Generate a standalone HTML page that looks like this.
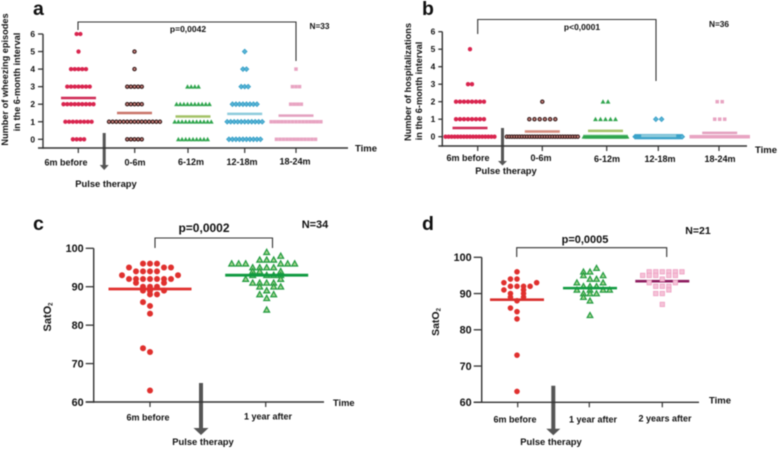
<!DOCTYPE html>
<html><head><meta charset="utf-8"><title>Pulse therapy outcomes</title>
<style>
html,body{margin:0;padding:0;background:#fff}
svg{display:block;filter:blur(0.42px)}
text{font-family:"Liberation Sans",sans-serif;font-weight:bold;fill:#111}
</style></head>
<body>
<svg id="fig" xmlns="http://www.w3.org/2000/svg" width="778" height="449" viewBox="0 0 778 449">
<rect width="778" height="449" fill="#fff"/>
<text x="33" y="15" font-size="19.5">a</text>
<text x="422" y="15" font-size="19.5">b</text>
<text x="33" y="230" font-size="19.5">c</text>
<text x="422" y="230" font-size="19.5">d</text>

<text transform="translate(8,79.5) rotate(-90)" text-anchor="middle" font-size="9.2">Number of wheezing episodes</text>
<text transform="translate(20,82) rotate(-90)" text-anchor="middle" font-size="9.2">in the 6-month interval</text>
<text transform="translate(411,82) rotate(-90)" text-anchor="middle" font-size="9.2">Number of hospitalizations</text>
<text transform="translate(422,91) rotate(-90)" text-anchor="middle" font-size="9.2">in the 6-month interval</text>
<text transform="translate(51,317) rotate(-90)" text-anchor="middle" font-size="11">SatO<tspan font-size="6" dy="1.5">2</tspan></text>
<text transform="translate(439,322) rotate(-90)" text-anchor="middle" font-size="10.5">SatO<tspan font-size="6" dy="1.5">2</tspan></text>

<path d="M78 30V22H296V61" fill="none" stroke="#333" stroke-width="1.1"/>
<path d="M477.7 34V19.5H656V81" fill="none" stroke="#333" stroke-width="1.1"/>
<path d="M155 248V238H272.5V248" fill="none" stroke="#333" stroke-width="1.1"/>
<path d="M516.7 257V247.7H666.7V257" fill="none" stroke="#333" stroke-width="1.1"/>

<text x="188" y="32" text-anchor="middle" font-size="8.5">p=0,0042</text>
<text x="582" y="30" text-anchor="middle" font-size="8.5">p&lt;0,0001</text>
<text x="204" y="232" text-anchor="middle" font-size="12">p=0,0002</text>
<text x="585" y="243" text-anchor="middle" font-size="11">p=0,0005</text>
<text x="319.5" y="29" text-anchor="middle" font-size="8.3">N=33</text>
<text x="719" y="27" text-anchor="middle" font-size="8.3">N=36</text>
<text x="315" y="228" text-anchor="middle" font-size="11">N=34</text>
<text x="698" y="234" text-anchor="middle" font-size="10.5">N=21</text>

<text x="355" y="151.5" font-size="9.5">Time</text>
<text x="755" y="153" font-size="9.5">Time</text>
<text x="333" y="406" font-size="9.3">Time</text>
<text x="709" y="403.5" font-size="9.5">Time</text>

<g fill="#555" stroke="none">
<path d="M102.7 133h3v32h3l-4.5 5l-4.5-5h3z"/>
<path d="M501 128h3v33h3l-4.5 4.5l-4.5-4.5h3z"/>
<path d="M199 383h4v45h5.5l-7.5 7l-7.5-7h5.5z"/>
<path d="M551.3 385.7h4v43h5l-7 6.5l-7-6.5h5z"/>
</g>
<text x="106" y="187" text-anchor="middle" font-size="9.4">Pulse therapy</text>
<text x="506" y="174" text-anchor="middle" font-size="9.4">Pulse therapy</text>
<text x="203" y="445" text-anchor="middle" font-size="9.4">Pulse therapy</text>
<text x="551" y="445" text-anchor="middle" font-size="9.4">Pulse therapy</text>
<g id="charts"></g>
</svg>
<script>
// ---- Panel a: patients per episode count (index = level 0..6)
const aLevels = [0,1,2,3,4,5,6];
const aBefore = [4,8,9,7,5,1,2];
const a0to6 = [5,15,5,5,1,1,0];
const a6to12 = [9,11,10,4,0,0,0];
const a12to18 = [10,11,8,3,2,1,0];
const a18to24 = [12,15,4,3,1,0,0];
const aMeans = [2.35,1.5,1.3,1.45,1.35];
const aCategories = ['6m before','0-6m','6-12m','12-18m','18-24m'];
const aYTicks = [0,1,2,3,4,5,6];
// ---- Panel b: patients per hospitalization count
const bLevels = [0,1,2,3,4,5,6];
const bBefore = [17,8,8,2,0,1,0];
const b0to6 = [29,6,1,0,0,0,0];
const b6to12 = [29,5,2,0,0,0,0];
const b12to18 = [34,2,0,0,0,0,0];
const b18to24 = [31,3,2,0,0,0,0];
const bMeans = [0.5,0.3,0.33,0.05,0.22];
const bCategories = ['6m before','0-6m','6-12m','12-18m','18-24m'];
const bYTicks = [0,1,2,3,4,5,6];
// ---- Panel c: individual SatO2 with swarm column index
const cBeforeValues = [96,96,96,95,95,95,94,94,94,94,93,93,92,92,92,92,92,92,92,91,91,90,90,90,89,89,89,88,88,86,85,83,74,73,63];
const cBeforeSwarm = [-1,0,1,-3,2,3,-2,-1,0,1,-4,4,-3,-2,-1,0,1,2,3,-2,2,-1,0,1,-1,0,2,0,1,-1,0,0,-1,0,0];
const cAfterValues = [99,98,97,97,97,96,96,96,96,96,96,95,95,95,95,94,94,94,93,93,93,93,92,92,91,91,91,91,90,90,90,89,88,88,87,84];
const cAfterSwarm = [0,2,-1,0,1,-5,-4,-3,2,3,4,-2,-1,0,1,-2,-1,2,-2,0,1,2,-3,2,-2,-1,0,1,-1,1,2,0,-1,1,0,0];
const cMeans = [89.4,93];
const cCategories = ['6m before','1 year after'];
const cYTicks = [60,70,80,90,100];
// ---- Panel d
const dBeforeValues = [96,94,94,93,93,92,92,92,92,91,91,90,90,89,89,88,86,85,83,73,63];
const dBeforeSwarm = [0,-1,0,-2,3,-1,0,1,2,-2,1,-1,1,-1,1,0,-1,0,0,0,0];
const dYear1Values = [97,96,96,95,95,94,94,93,93,92,92,92,91,91,91,91,90,90,90,89,88,84];
const dYear1Swarm = [1,-1,0,-1,2,0,1,-2,2,-1,0,1,-2,0,2,3,-1,0,1,-1,0,0];
const dYear2Values = [96,96,96,96,96,96,95,95,95,95,95,94,93,93,92,92,92,91,90,90,87];
const dYear2Swarm = [-2,-1,0,1,2,3,-3,-2,-1,1,2,0,-2,2,-1,0,1,1,-1,0,0];
const dMeans = [88.3,91.5,93.4];
const dCategories = ['6m before','1 year after','2 years after'];
const dYTicks = [60,70,80,90,100];

const NS = 'http://www.w3.org/2000/svg';
const root = document.getElementById('charts');
function yScale(p, v) {
  return p.yBottom - (v - p.vMin) * (p.yBottom - p.yTop) / (p.vMax - p.vMin);
}
function line(x1, y1, x2, y2, color, w, name) {
  const el = document.createElementNS(NS, 'line');
  el.setAttribute('x1', x1);
  el.setAttribute('y1', y1);
  el.setAttribute('x2', x2);
  el.setAttribute('y2', y2);
  el.setAttribute('stroke', color);
  el.setAttribute('stroke-width', w);
  
  
  root.appendChild(el);
}
function label(x, y, str, size, anchor, name) {
  const el = document.createElementNS(NS, 'text');
  el.setAttribute('x', x);
  el.setAttribute('y', y);
  el.setAttribute('font-size', size);
  el.setAttribute('text-anchor', anchor);
  el.textContent = str;
  
  
  root.appendChild(el);
}
function marker(x, y, s, name) {
  let el;
  const r = s.size;
  if (s.shape === 'circle') {
    el = document.createElementNS(NS, 'circle');
    el.setAttribute('cx', x);
    el.setAttribute('cy', y);
    el.setAttribute('r', r);
  } else if (s.shape === 'square') {
    el = document.createElementNS(NS, 'rect');
    el.setAttribute('x', x - r);
    el.setAttribute('y', y - r);
    el.setAttribute('width', 2 * r);
    el.setAttribute('height', 2 * r);
  } else if (s.shape === 'triangle') {
    el = document.createElementNS(NS, 'polygon');
    el.setAttribute('points', `${x},${y - r} ${x + r},${y + r * 0.8} ${x - r},${y + r * 0.8}`);
  } else {
    el = document.createElementNS(NS, 'polygon');
    el.setAttribute('points', `${x},${y - r} ${x + r},${y} ${x},${y + r} ${x - r},${y}`);
  }
  el.setAttribute('fill', s.fill);
  el.setAttribute('stroke', s.stroke || 'none');
  el.setAttribute('stroke-width', s.sw || 0);
  
  
  root.appendChild(el);
}
function axes(p, ticks, cats) {
  line(p.axisX, yScale(p, ticks[ticks.length - 1]), p.axisX, p.axisY + 0.7, '#333', 1.4, p.id + '-y-axis');
  line(p.axisX - (p.tickLen || 5), p.axisY, p.axisEnd, p.axisY, '#333', 1.4, p.id + '-x-axis');
  ticks.forEach(function (t) {
    const y = yScale(p, t);
    line(p.axisX - p.tickLen, y, p.axisX, y, '#333', 1.3, p.id + '-y-tick');
    label(p.axisX - p.tickLen - p.labelGap, y + p.tickFont * 0.36, String(t), p.tickFont, 'end', p.id + '-y-tick-label');
  });
  cats.forEach(function (c, i) {
    line(p.ticksX[i], p.axisY, p.ticksX[i], p.axisY + 5, '#333', 1.2, p.id + '-x-tick');
    label(p.catX[i], p.catY[i], c, p.catFont, 'middle', p.id + '-x-label');
  });
}
function drawMean(p, i, v, color) {
  const y = yScale(p, v);
  line(p.centers[i] - p.meanW / 2, y, p.centers[i] + p.meanW / 2, y, color, p.meanT, p.id + '-mean-' + i);
}
function drawRows(p, i, levels, counts, style) {
  levels.forEach(function (lv, k) {
    const n = counts[k];
    if (!n) return;
    const sp = Math.min(p.spacing[i], n > 1 ? p.maxRow[i] / (n - 1) : 0);
    for (let j = 0; j < n; j++) {
      marker(p.centers[i] + (j - (n - 1) / 2) * sp, yScale(p, lv), style, p.id + '-point');
    }
  });
}
function drawSwarm(p, i, values, slots, style) {
  values.forEach(function (v, j) {
    marker(p.centers[i] + slots[j] * p.slot, yScale(p, v), style, p.id + '-point');
  });
}

const crimson = {shape:'circle', size:2.15, fill:'#d9254f'};
const ring = {shape:'circle', size:1.7, fill:'#c9807a', stroke:'#2e1414', sw:1};
const greenTri = {shape:'triangle', size:2.4, fill:'#2fa54d'};
const blueDia = {shape:'diamond', size:2.4, fill:'#58b4d6', stroke:'#2f9bc4', sw:0.7};
const pinkSq = {shape:'square', size:1.75, fill:'#e8a4c2'};

const panelA = {id:'panel-a', vMin:0, vMax:6, yBottom:139.3, yTop:34, axisX:43, axisY:148, axisEnd:348, tickLen:5, labelGap:3, tickFont:8.4,
  ticksX:[78.3,134.7,188,244.7,296], catX:[66,135,191,242,295], catY:[165.5,165.5,165,165,164.5], catFont:9,
  centers:[78.5,134.5,193,244.7,296], spacing:[3.75,3.64,3.65,3.5,3.55], maxRow:[99,99,99,99,99], meanW:35, meanT:2.5};
const panelB = {id:'panel-b', vMin:0, vMax:6, yBottom:136.7, yTop:31.7, axisX:442.3, axisY:146, axisEnd:747, tickLen:4, labelGap:3, tickFont:8.4,
  ticksX:[477.7,542.3,606.7,658.3,719], catX:[468,541,607,660,720], catY:[161,161,162,162,162], catFont:9,
  centers:[470,542.3,605.5,658.7,719.7], spacing:[4,5.2,5,5.7,5], maxRow:[49,71,43,47,57], meanW:35, meanT:2.5};
const panelC = {id:'panel-c', vMin:60, vMax:100, yBottom:402, yTop:248.3, axisX:93.7, axisY:402, axisEnd:324, tickLen:8, labelGap:2, tickFont:10.8,
  ticksX:[150,265.7], catX:[148,268], catY:[420.5,419.5], catFont:9,
  centers:[150,266.7], slot:7, meanW:83, meanT:2.8};
const panelD = {id:'panel-d', vMin:60, vMax:100, yBottom:402.3, yTop:257.3, axisX:481.7, axisY:402.3, axisEnd:699, tickLen:8, labelGap:2, tickFont:10.8,
  ticksX:[517.7,589.3,662.3], catX:[515,593,665], catY:[422.5,422.5,421.5], catFont:9,
  centers:[517,590,662.3], slot:6.55, meanW:54, meanT:2.6};

axes(panelA, aYTicks, aCategories);
drawRows(panelA, 0, aLevels, aBefore, crimson);
drawRows(panelA, 1, aLevels, a0to6, ring);
drawRows(panelA, 2, aLevels, a6to12, greenTri);
drawRows(panelA, 3, aLevels, a12to18, blueDia);
drawRows(panelA, 4, aLevels, a18to24, pinkSq);
['#cf2a55','#c9756a','#a3c267','#8ecbdc','#e3a0bf'].forEach(function (c, i) { drawMean(panelA, i, aMeans[i], c); });

axes(panelB, bYTicks, bCategories);
drawRows(panelB, 0, bLevels, bBefore, crimson);
drawRows(panelB, 1, bLevels, b0to6, ring);
drawRows(panelB, 2, bLevels, b6to12, greenTri);
drawRows(panelB, 3, bLevels, b12to18, blueDia);
drawRows(panelB, 4, bLevels, b18to24, pinkSq);
['#cf2a55','#d48a7c','#a3c267','#8ecbdc','#e3a0bf'].forEach(function (c, i) { drawMean(panelB, i, bMeans[i], c); });

axes(panelC, cYTicks, cCategories);
drawSwarm(panelC, 0, cBeforeValues, cBeforeSwarm, {shape:'circle', size:3, fill:'#e0302e'});
drawSwarm(panelC, 1, cAfterValues, cAfterSwarm, {shape:'triangle', size:2.9, fill:'#a5d68e', stroke:'#1f9a3e', sw:1.2});
drawMean(panelC, 0, cMeans[0], '#e0302e');
drawMean(panelC, 1, cMeans[1], '#0f9a40');

axes(panelD, dYTicks, dCategories);
drawSwarm(panelD, 0, dBeforeValues, dBeforeSwarm, {shape:'circle', size:2.8, fill:'#e0302e'});
drawSwarm(panelD, 1, dYear1Values, dYear1Swarm, {shape:'triangle', size:2.8, fill:'#a5d68e', stroke:'#1f9a3e', sw:1.2});
drawMean(panelD, 0, dMeans[0], '#d9302e');
drawMean(panelD, 1, dMeans[1], '#0f9a40');
drawMean(panelD, 2, dMeans[2], '#8e1d5f');
drawSwarm(panelD, 2, dYear2Values, dYear2Swarm, {shape:'square', size:2.2, fill:'#f5c3d8', stroke:'#ee9fc2', sw:0.8});
</script>
</body></html>
